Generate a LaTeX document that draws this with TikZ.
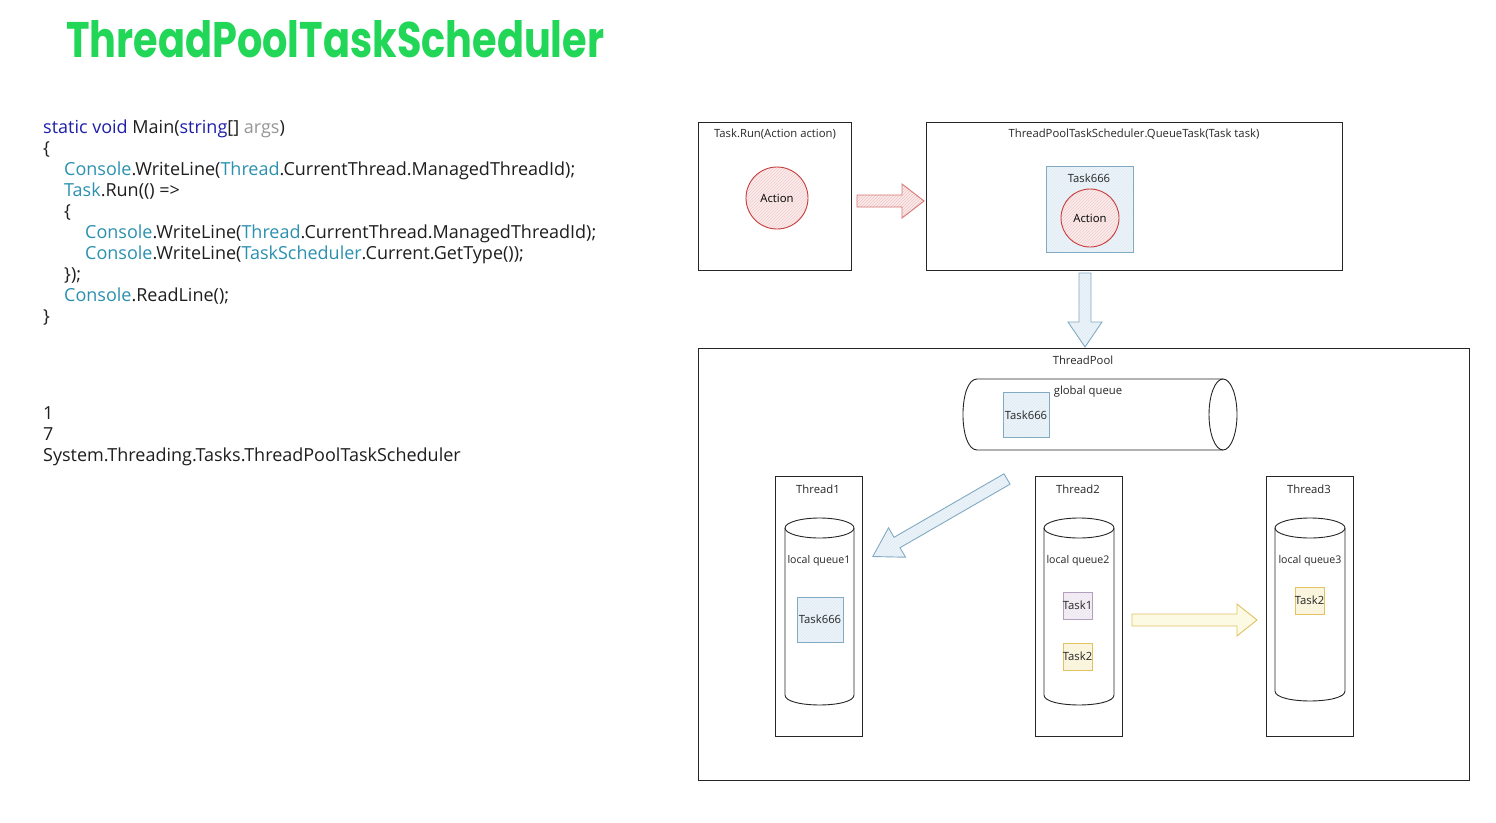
\documentclass[tikz,border=0pt]{standalone}
\usepackage{fontspec}
\setmainfont{Open Sans}
\newfontfamily\titlefont{Poppins}
\usetikzlibrary{patterns}
\definecolor{titlegreen}{RGB}{34,214,88}
\definecolor{kwblue}{RGB}{30,30,170}
\definecolor{typeteal}{RGB}{43,145,175}
\definecolor{argsgray}{RGB}{150,150,150}
\definecolor{codeblack}{RGB}{30,30,30}
\definecolor{redstroke}{RGB}{200,60,60}
\definecolor{redfill}{RGB}{252,236,236}
\definecolor{bluestroke}{RGB}{130,170,195}
\definecolor{bluefill}{RGB}{234,244,250}
\definecolor{purplestroke}{RGB}{180,160,190}
\definecolor{purplefill}{RGB}{246,240,248}
\definecolor{yellowstroke}{RGB}{225,195,100}
\definecolor{yellowfill}{RGB}{253,250,228}
\newcommand\ckw[1]{\textcolor{kwblue}{#1}}
\newcommand\ctype[1]{\textcolor{typeteal}{#1}}
\newcommand\cgray[1]{\textcolor{argsgray}{#1}}
\begin{document}
\begin{tikzpicture}[x=1pt,y=-1pt,
  code/.style={anchor=base west, inner sep=0, text=codeblack, font=\fontsize{18}{21}\selectfont},
  box/.style={draw=black!85, line width=0.9pt, anchor=north west, inner sep=0},
  lbl/.style={inner sep=0, font=\fontsize{11.3}{13}\selectfont, text=black!85},
  qlbl/.style={inner sep=0, font=\fontsize{10.6}{12}\selectfont, text=black!85},
  actcirc/.style={circle, draw=redstroke, line width=0.9pt, minimum size=62pt, inner sep=0,
     preaction={fill=redfill}, pattern=north east lines, pattern color=redstroke!25,
     font=\fontsize{11.3}{13}\selectfont},
  bluetask/.style={draw=bluestroke, line width=0.9pt, anchor=north west, inner sep=0,
     preaction={fill=bluefill}, pattern=north east lines, pattern color=bluestroke!25},
  purpletask/.style={draw=purplestroke, line width=0.9pt, anchor=north west, inner sep=0,
     preaction={fill=purplefill}, pattern=north east lines, pattern color=purplestroke!30},
  yellowtask/.style={draw=yellowstroke, line width=0.9pt, anchor=north west, inner sep=0,
     preaction={fill=yellowfill}, pattern=north east lines, pattern color=yellowstroke!30},
  cyl/.style={draw=black!85, line width=0.9pt},
  redarrow/.style={draw=redstroke!70, line width=0.9pt, preaction={fill=redfill},
     pattern=north east lines, pattern color=redstroke!30},
  bluearrow/.style={draw=bluestroke, line width=0.9pt, preaction={fill=bluefill},
     pattern=north east lines, pattern color=bluestroke!25},
  yellowarrow/.style={draw=yellowstroke, line width=0.9pt, preaction={fill=yellowfill}},
]
\useasboundingbox (0,0) rectangle (1496,822);
\fill[white] (0,0) rectangle (1496,822);

% title
\node[anchor=base west, inner sep=0, text=titlegreen] (title) at (66,57)
  {\resizebox{538pt}{37pt}{\titlefont\bfseries ThreadPoolTaskScheduler}};

% code
\node[code] (c1) at (43,133) {\ckw{static void} Main(\ckw{string}[] \cgray{args})};
\node[code] (c2) at (43,154) {\{};
\node[code] (c3) at (64,175) {\ctype{Console}.WriteLine(\ctype{Thread}.CurrentThread.ManagedThreadId);};
\node[code] (c4) at (64,196) {\ctype{Task}.Run(() =>};
\node[code] (c5) at (64,217) {\{};
\node[code] (c6) at (85,238) {\ctype{Console}.WriteLine(\ctype{Thread}.CurrentThread.ManagedThreadId);};
\node[code] (c7) at (85,259) {\ctype{Console}.WriteLine(\ctype{TaskScheduler}.Current.GetType());};
\node[code] (c8) at (64,280) {\});};
\node[code] (c9) at (64,301) {\ctype{Console}.ReadLine();};
\node[code] (c10) at (43,322) {\}};

% output
\node[code] (o1) at (43,419) {1};
\node[code] (o2) at (43,440) {7};
\node[code] (o3) at (43,461) {System.Threading.Tasks.ThreadPoolTaskScheduler};

% Task.Run box
\node[box, minimum width=153pt, minimum height=148pt] (taskrun) at (698,122) {};
\node[lbl] (taskrunlbl) at (775,134) {Task.Run(Action action)};
\node[actcirc] (act1) at (777,198) {Action};

% red arrow
\begin{scope}[shift={(857,201)}]
\draw[redarrow] (0,-6) -- (45,-6) -- (45,-17) -- (67,0) -- (45,17) -- (45,6) -- (0,6) -- cycle;
\end{scope}

% QueueTask box
\node[box, minimum width=416pt, minimum height=148pt] (queuetask) at (926,122) {};
\node[lbl] (queuetasklbl) at (1134,134) {ThreadPoolTaskScheduler.QueueTask(Task task)};
\node[bluetask, minimum width=87pt, minimum height=86pt] (t666a) at (1046,166) {};
\node[lbl] (t666albl) at (1089,178) {Task666};
\node[actcirc, minimum size=58pt] (act2) at (1090,218) {Action};

% blue down arrow
\begin{scope}[shift={(1085,273)}, rotate=-90]
\draw[bluearrow] (0,-6) -- (49,-6) -- (49,-17) -- (74,0) -- (49,17) -- (49,6) -- (0,6) -- cycle;
\end{scope}

% ThreadPool box
\node[box, minimum width=771pt, minimum height=432pt] (pool) at (698,348) {};
\node[lbl] (poollbl) at (1083,360) {ThreadPool};

% global queue
\draw[cyl, fill=white] (1223,379) -- (977,379) .. controls (958.3,379) and (958.3,450) .. (977,450) -- (1223,450);
\draw[cyl] (1223,414.5) ellipse[x radius=14, y radius=35.5];
\node[lbl] (gqlbl) at (1088,392) {global queue};
\node[bluetask, minimum width=46pt, minimum height=45pt] (t666b) at (1003,392) {};
\node[lbl] (t666blbl) at (1026,415) {Task666};

% Thread1
\node[box, minimum width=87pt, minimum height=260pt] (th1) at (775,476) {};
\node[lbl] (th1lbl) at (818,489) {Thread1};
\draw[cyl] (785,528) -- (785,695) .. controls (785,708.3) and (854,708.3) .. (854,695) -- (854,528);
\draw[cyl] (819.5,528) ellipse[x radius=34.5, y radius=10];
\node[qlbl] (lq1) at (819,561) {local queue1};
\node[bluetask, minimum width=46pt, minimum height=45pt] (t666c) at (797,597) {};
\node[lbl] (t666clbl) at (820,619) {Task666};

% Thread2
\node[box, minimum width=87pt, minimum height=260pt] (th2) at (1035,476) {};
\node[lbl] (th2lbl) at (1078,489) {Thread2};
\draw[cyl] (1044,528) -- (1044,695) .. controls (1044,708.3) and (1114,708.3) .. (1114,695) -- (1114,528);
\draw[cyl] (1079,528) ellipse[x radius=35, y radius=10];
\node[qlbl] (lq2) at (1078,561) {local queue2};
\node[purpletask, minimum width=29pt, minimum height=27pt] (t1) at (1063,592) {};
\node[lbl] (t1lbl) at (1077.5,605) {Task1};
\node[yellowtask, minimum width=29pt, minimum height=27pt] (t2a) at (1063,643) {};
\node[lbl] (t2albl) at (1077.5,656) {Task2};

% Thread3
\node[box, minimum width=87pt, minimum height=260pt] (th3) at (1266,476) {};
\node[lbl] (th3lbl) at (1309,489) {Thread3};
\draw[cyl] (1275,528) -- (1275,691) .. controls (1275,704.3) and (1345,704.3) .. (1345,691) -- (1345,528);
\draw[cyl] (1310,528) ellipse[x radius=35, y radius=10];
\node[qlbl] (lq3) at (1310,561) {local queue3};
\node[yellowtask, minimum width=29pt, minimum height=27pt] (t2b) at (1295,587) {};
\node[lbl] (t2blbl) at (1309.5,600) {Task2};

% diagonal blue arrow
\begin{scope}[shift={(1007,479)}, rotate=210]
\draw[bluearrow] (0,-6) -- (127,-6) -- (127,-17) -- (155,0) -- (127,17) -- (127,6) -- (0,6) -- cycle;
\end{scope}

% yellow arrow
\begin{scope}[shift={(1132,620)}]
\draw[yellowarrow] (0,-6) -- (105,-6) -- (105,-16) -- (125,0) -- (105,16) -- (105,6) -- (0,6) -- cycle;
\end{scope}
\end{tikzpicture}
\end{document}
